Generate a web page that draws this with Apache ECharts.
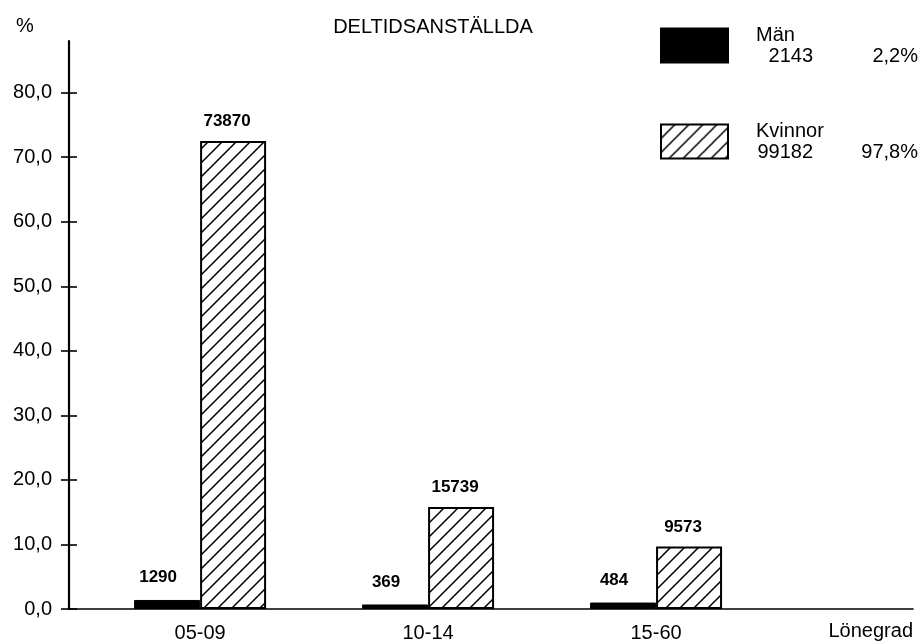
<!DOCTYPE html>
<html>
<head>
<meta charset="utf-8">
<script src="https://cdn.jsdelivr.net/npm/echarts@6/dist/echarts.min.js"></script>
<style>
  html, body { margin: 0; padding: 0; background: #fff; }
  #chart { width: 924px; height: 643px; }
</style>
</head>
<body>
<div id="chart"></div>
<script>
// ---- data ----
var categories = ['05-09', '10-14', '15-60'];
var manPercent = [1.4, 0.7, 1.0];
var kvinnorPercent = [72.5, 15.8, 9.7];
var manCounts = [1290, 369, 484];
var kvinnorCounts = [73870, 15739, 9573];
var yTicks = [0, 10, 20, 30, 40, 50, 60, 70, 80];
var legendMan = { name: 'Män', total: '2143', share: '2,2%' };
var legendKvinnor = { name: 'Kvinnor', total: '99182', share: '97,8%' };

// hatch pattern
function makeHatch() {
  var s = 14;
  var c = document.createElement('canvas');
  c.width = s; c.height = s;
  var ctx = c.getContext('2d');
  ctx.fillStyle = '#fff';
  ctx.fillRect(0, 0, s, s);
  ctx.strokeStyle = '#000';
  ctx.lineWidth = 1.5;
  ctx.beginPath();
  ctx.moveTo(-2, s + 2); ctx.lineTo(s + 2, -2);
  ctx.moveTo(-2, 2); ctx.lineTo(2, -2);
  ctx.moveTo(s - 2, s + 2); ctx.lineTo(s + 2, s - 2);
  ctx.stroke();
  return c;
}
var hatch = { image: makeHatch(), repeat: 'repeat' };

function fmt(v) { return v.toFixed(1).replace('.', ','); }

var FONT = 'Liberation Sans';
var chart = echarts.init(document.getElementById('chart'));

var legendNames = {};
legendNames[legendMan.name] = legendMan;
legendNames[legendKvinnor.name] = legendKvinnor;

chart.setOption({
  animation: false,
  backgroundColor: '#fff',
  textStyle: { fontFamily: FONT, color: '#000' },
  title: [
    { text: 'DELTIDSANSTÄLLDA', left: 428, top: 12, textAlign: 'center',
      textStyle: { fontFamily: FONT, fontSize: 20, fontWeight: 'normal', color: '#000' } },
    { text: '%', left: 11, top: 11,
      textStyle: { fontFamily: FONT, fontSize: 20, fontWeight: 'normal', color: '#000' } }
  ],
  legend: {
    orient: 'vertical',
    left: 655, top: 20,
    itemWidth: 67, itemHeight: 34,
    itemGap: 55,
    icon: 'rect',
    data: [legendMan.name, legendKvinnor.name],
    formatter: function (name) {
      var d = legendNames[name];
      return '{n|' + d.name + '}\n{v|' + d.total + '}{p|' + d.share + '}';
    },
    textStyle: {
      fontFamily: FONT, fontSize: 20, color: '#000',
      padding: [0, 0, 0, 23],
      rich: {
        n: { fontFamily: FONT, fontSize: 20, lineHeight: 21, color: '#000', width: 156, align: 'left' },
        v: { fontFamily: FONT, fontSize: 20, lineHeight: 21, color: '#000', width: 57, align: 'right' },
        p: { fontFamily: FONT, fontSize: 20, lineHeight: 21, color: '#000', width: 105, align: 'right' }
      }
    }
  },
  grid: { left: 69, right: 11, top: 41, bottom: 34, containLabel: false },
  xAxis: {
    type: 'value',
    min: -0.575, max: 3.127,
    splitLine: { show: false },
    axisLine: { show: true, onZero: false, lineStyle: { color: '#000', width: 1.6 } },
    axisTick: { show: false },
    axisLabel: {
      customValues: [0, 1, 2],
      formatter: function (v) { return categories[Math.round(v)]; },
      fontFamily: FONT, fontSize: 20, color: '#000', margin: 14
    },
    name: 'Lönegrad',
    nameLocation: 'end',
    nameGap: 0,
    nameTextStyle: { fontFamily: FONT, fontSize: 20, color: '#000', align: 'right', verticalAlign: 'top', padding: [12, 0, 0, 0] }
  },
  yAxis: [
    {
      type: 'value', min: 0, max: 88, interval: 10,
      splitLine: { show: false },
      axisLine: { show: true, onZero: false, lineStyle: { color: '#000', width: 2.2 } },
      axisTick: { show: true, customValues: yTicks, length: 8, lineStyle: { color: '#000', width: 1.6 } },
      axisLabel: {
        customValues: yTicks, formatter: fmt,
        fontFamily: FONT, fontSize: 20, color: '#000', margin: 17
      }
    },
    {
      type: 'value', min: 0, max: 88, interval: 10, position: 'left',
      splitLine: { show: false },
      axisLine: { show: false, onZero: false },
      axisTick: { show: true, inside: true, customValues: yTicks, length: 8, lineStyle: { color: '#000', width: 1.6 } },
      axisLabel: { show: false }
    }
  ],
  series: [
    {
      name: legendMan.name,
      type: 'bar',
      yAxisIndex: 0,
      barWidth: 66,
      barGap: '0%',
      data: manPercent.map(function (v, i) { return [i, v]; }),
      itemStyle: { color: '#000', borderColor: '#000', borderWidth: 1 },
      label: {
        show: true, position: 'top', distance: 14, offset: [-9, 0],
        formatter: function (p) { return String(manCounts[p.dataIndex]); },
        fontFamily: FONT, fontSize: 17, fontWeight: 'bold', color: '#000'
      }
    },
    {
      name: legendKvinnor.name,
      type: 'bar',
      yAxisIndex: 0,
      barWidth: 66,
      barGap: '0%',
      data: kvinnorPercent.map(function (v, i) { return [i, v]; }),
      itemStyle: { color: hatch, borderColor: '#000', borderWidth: 2 },
      label: {
        show: true, position: 'top', distance: 11, offset: [-6, 0],
        formatter: function (p) { return String(kvinnorCounts[p.dataIndex]); },
        fontFamily: FONT, fontSize: 17, fontWeight: 'bold', color: '#000'
      }
    }
  ]
});
</script>
</body>
</html>
